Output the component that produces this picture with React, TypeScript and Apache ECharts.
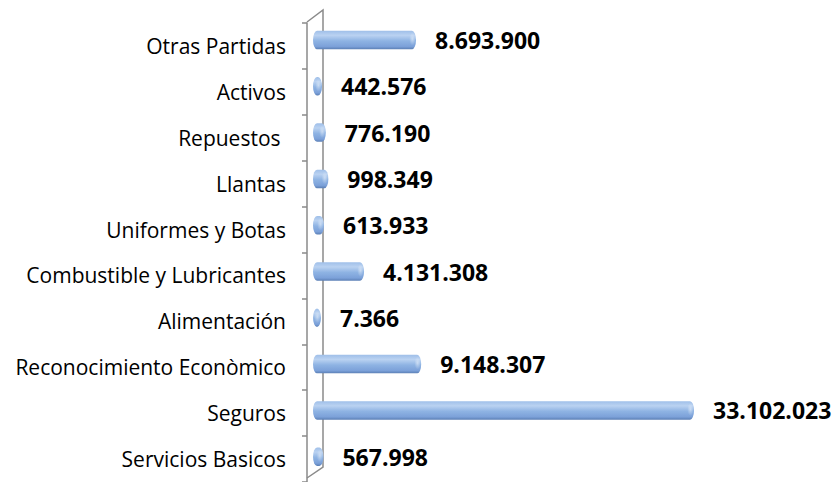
import React, { useEffect, useRef } from "react";
import * as echarts from "echarts";

const categories = [
  "Servicios Basicos",
  "Seguros",
  "Reconocimiento Econòmico",
  "Alimentación",
  "Combustible y Lubricantes",
  "Uniformes y Botas",
  "Llantas",
  "Repuestos ",
  "Activos",
  "Otras Partidas",
];
const values = [567998, 33102023, 9148307, 7366, 4131308, 613933, 998349, 776190, 442576, 8693900];

const fmt = (v: number) => String(Math.round(v)).replace(/\B(?=(\d{3})+(?!\d))/g, ".");

export default function App() {
  const ref = useRef<HTMLDivElement>(null);
  useEffect(() => {
    if (!ref.current) return;
    const chart = echarts.init(ref.current, null, { renderer: "svg" });
    const axisColor = "#8a8a8a";
    const barH = 18.5;
    const rx = 4;
    chart.setOption({
      animation: false,
      backgroundColor: "#ffffff",
      grid: [
        { left: 317, top: 16.85, height: 463, width: 455.6 },
        { left: 307, top: 23, height: 463, width: 455.6 },
      ],
      xAxis: [
        { type: "value", gridIndex: 0, min: 0, max: 40000000, show: false },
        { type: "value", gridIndex: 1, min: 0, max: 40000000, show: false },
      ],
      yAxis: [
        { type: "category", gridIndex: 0, data: categories, show: false },
        {
          type: "category",
          gridIndex: 1,
          data: categories,
          axisLine: { show: true, lineStyle: { color: axisColor, width: 1.5 } },
          axisTick: { show: true, length: 5, lineStyle: { color: axisColor, width: 1.5 } },
          axisLabel: {
            margin: 21,
            fontSize: 21,
            fontFamily: "Open Sans",
            color: "#000000",
          },
          splitLine: { show: false },
        },
      ],
      graphic: [
        {
          type: "polyline",
          z: 1,
          shape: { points: [[307, 22], [323, 10], [323, 467], [307, 478]] },
          style: { stroke: axisColor, lineWidth: 1.5, fill: "none" },
        },
      ],
      series: [
        {
          type: "custom",
          xAxisIndex: 0,
          yAxisIndex: 0,
          z: 5,
          data: values.map((v, i) => [v, i]),
          encode: { x: 0, y: 1 },
          renderItem: (params: any, api: any) => {
            const v = api.value(0);
            const c = api.value(1);
            const s = api.coord([0, c]);
            const e = api.coord([v, c]);
            const cy = s[1];
            const ry = barH / 2;
            const L = s[0] - rx;
            const R = Math.max(e[0], s[0] + rx);
            const d =
              `M ${L + rx} ${cy - ry} L ${R - rx} ${cy - ry} ` +
              `A ${rx} ${ry} 0 0 1 ${R - rx} ${cy + ry} ` +
              `L ${L + rx} ${cy + ry} ` +
              `A ${rx} ${ry} 0 0 1 ${L + rx} ${cy - ry} Z`;
            return {
              type: "group",
              children: [
                {
                  type: "path",
                  shape: { pathData: d },
                  style: {
                    fill: {
                      type: "linear",
                      x: 0,
                      y: 0,
                      x2: 0,
                      y2: 1,
                      colorStops: [
                        { offset: 0, color: "#9fbfe9" },
                        { offset: 0.25, color: "#bad2f1" },
                        { offset: 0.55, color: "#8eb3e3" },
                        { offset: 0.85, color: "#7ca1d9" },
                        { offset: 1, color: "#5b7fb5" },
                      ],
                    },
                    stroke: null,
                  },
                },
                {
                  type: "ellipse",
                  shape: { cx: R - rx * 0.9, cy: cy - 1, rx: rx * 0.8, ry: ry * 0.7 },
                  style: {
                    fill: {
                      type: "radial",
                      x: 0.5,
                      y: 0.5,
                      r: 0.5,
                      colorStops: [
                        { offset: 0, color: "rgba(255,255,255,0.45)" },
                        { offset: 1, color: "rgba(255,255,255,0)" },
                      ],
                    },
                  },
                },
                {
                  type: "text",
                  style: {
                    text: fmt(v),
                    x: R + 19,
                    y: cy,
                    align: "left",
                    verticalAlign: "middle",
                    font: 'bold 23px "Open Sans"',
                    fill: "#000000",
                  },
                },
              ],
            };
          },
        },
      ],
    });
    return () => chart.dispose();
  }, []);
  return (
    <div
      ref={ref}
      style={{ position: "fixed", left: 0, top: 0, width: 838, height: 482 }}
    />
  );
}
